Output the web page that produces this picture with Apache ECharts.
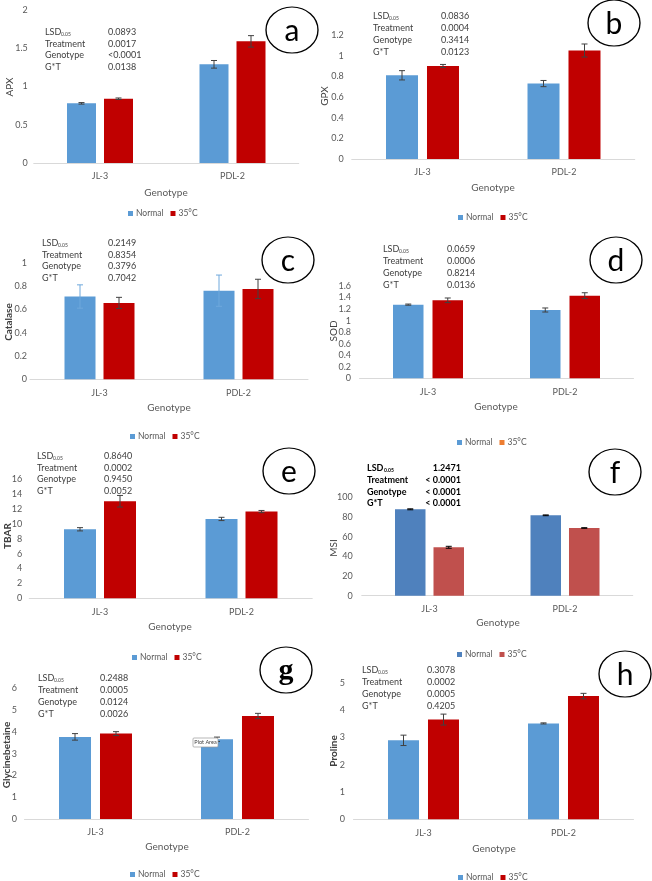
<!DOCTYPE html>
<html>
<head>
<meta charset="utf-8">
<script src="https://cdn.jsdelivr.net/npm/echarts@6/dist/echarts.min.js"></script>
<style>html,body{margin:0;padding:0;background:#fff;}#c{width:652px;height:881px;}</style>
</head>
<body>
<div id="c"></div>
<script>
// ---------- DATA ----------
const categories = ['JL-3', 'PDL-2'];
const seriesNames = ['Normal', '35°C'];

const apxNormal = [0.78, 1.29], apx35 = [0.84, 1.59];
const apxNormalErr = [0.01, 0.05], apx35Err = [0.01, 0.075];
const gpxNormal = [0.81, 0.73], gpx35 = [0.90, 1.05];
const gpxNormalErr = [0.045, 0.03], gpx35Err = [0.015, 0.063];
const catNormal = [0.71, 0.76], cat35 = [0.655, 0.775];
const catNormalErr = [0.10, 0.134], cat35Err = [0.048, 0.083];
const sodNormal = [1.277, 1.184], sod35 = [1.352, 1.433];
const sodNormalErr = [0.01, 0.035], sod35Err = [0.04, 0.05];
const tbarNormal = [9.28, 10.67], tbar35 = [13.05, 11.66];
const tbarNormalErr = [0.22, 0.22], tbar35Err = [0.78, 0.15];
const msiNormal = [87.8, 81.7], msi35 = [49.2, 68.8];
const msiNormalErr = [0.5, 0.4], msi35Err = [1.0, 0.3];
const gbNormal = [3.77, 3.66], gb35 = [3.92, 4.73];
const gbNormalErr = [0.15, 0.1], gb35Err = [0.09, 0.12];
const proNormal = [2.89, 3.51], pro35 = [3.65, 4.51];
const proNormalErr = [0.19, 0.02], pro35Err = [0.2, 0.1];

// y axis tick ranges [max, interval]
const yAxisMax = [2, 1.2, 1, 1.6, 16, 100, 6, 5];
const yAxisInterval = [0.5, 0.2, 0.2, 0.2, 2, 20, 1, 1];
const yAxisNames = ['APX', 'GPX', 'Catalase', 'SOD', 'TBAR', 'MSI', 'Glycinebetaine', 'Proline'];
const panelLetters = ['a', 'b', 'c', 'd', 'e', 'f', 'g', 'h'];
const xAxisName = 'Genotype';

const statRowLabels = ['LSD', 'Treatment', 'Genotype', 'G*T'];
const lsdSubscript = '0.05';
const apxStats = ['0.0893', '0.0017', '<0.0001', '0.0138'];
const gpxStats = ['0.0836', '0.0004', '0.3414', '0.0123'];
const catStats = ['0.2149', '0.8354', '0.3796', '0.7042'];
const sodStats = ['0.0659', '0.0006', '0.8214', '0.0136'];
const tbarStats = ['0.8640', '0.0002', '0.9450', '0.0052'];
const msiStats = ['1.2471', '< 0.0001', '< 0.0001', '< 0.0001'];
const gbStats = ['0.2488', '0.0005', '0.0124', '0.0026'];
const proStats = ['0.3078', '0.0002', '0.0005', '0.4205'];

const panelData = [
  [apxNormal, apx35, apxNormalErr, apx35Err, apxStats],
  [gpxNormal, gpx35, gpxNormalErr, gpx35Err, gpxStats],
  [catNormal, cat35, catNormalErr, cat35Err, catStats],
  [sodNormal, sod35, sodNormalErr, sod35Err, sodStats],
  [tbarNormal, tbar35, tbarNormalErr, tbar35Err, tbarStats],
  [msiNormal, msi35, msiNormalErr, msi35Err, msiStats],
  [gbNormal, gb35, gbNormalErr, gb35Err, gbStats],
  [proNormal, pro35, proNormalErr, pro35Err, proStats]
];

// ---------- LAYOUT / STYLE ----------
const FONT = 'Lato, "Open Sans", sans-serif';
const L = [
  {grid:[33.75,10,265,153], bw:29, gap:8, lm:6, yn:[10,87,false], xn:[166,193], lg:[123,204], ci:[292,30], lf:FONT, st:[45,108,32,11.7,false,'left'], colors:['#5B9BD5','#C00000'], err:['#404040','#404040'], leg:['#5B9BD5','#C00000']},
  {grid:[351.75,35,283,124], bw:32, gap:9, lm:8, yn:[325,96,false], xn:[493,188], lg:[453,208], ci:[614,23], lf:FONT, st:[373,441,16,12,false,'left'], colors:['#5B9BD5','#C00000'], err:['#404040','#404040'], leg:['#5B9BD5','#C00000']},
  {grid:[30,262.7,278,116.6], bw:31, gap:8, lm:3, yn:[9,322,true], xn:[169,408], lg:[125,427], ci:[288,260], lf:FONT, st:[42,108,243,11.7,false,'left'], colors:['#5B9BD5','#C00000'], err:['#6FA8DC','#404040'], leg:['#5B9BD5','#C00000']},
  {grid:[359.5,286,274,92.3], bw:30.5, gap:9, lm:8.5, yn:[334,331,false], xn:[496,407], lg:[452,433], ci:[616,260], lf:FONT, st:[383,447,249,12,false,'left'], colors:['#5B9BD5','#C00000'], err:['#404040','#404040'], leg:['#5B9BD5','#ED7D31']},
  {grid:[29.25,479.3,283,119], bw:32, gap:8, lm:7, yn:[8,536,true], xn:[170,627], lg:[127,648], ci:[289,471], lf:FONT, st:[37,104,456,11.7,false,'left'], colors:['#5B9BD5','#C00000'], err:['#404040','#404040'], leg:['#5B9BD5','#C00000']},
  {grid:[361.75,497.3,271,98.4], bw:30.5, gap:8, lm:9, yn:[334,548,false], xn:[498,623], lg:[452,645], ci:[615,472], lf:FONT, st:[367,461,468,11.8,true,'right'], colors:['#4F81BD','#C0504D'], err:['#000000','#000000'], leg:['#4F81BD','#C0504D']},
  {grid:[24.5,688.3,284,130.7], bw:32, gap:9, lm:7.5, yn:[7,755,true], xn:[167,847], lg:[125,865], ci:[286,670], lf:'"Liberation Serif", "DejaVu Serif", serif', st:[38,100,678,12,false,'left'], colors:['#5B9BD5','#C00000'], err:['#404040','#404040'], leg:['#5B9BD5','#C00000']},
  {grid:[353.5,682.7,280,136.6], bw:31, gap:9, lm:8.5, yn:[334,751,true], xn:[494,849], lg:[453,868], ci:[625,674], lf:FONT, st:[362,427,670,12,false,'left'], colors:['#5B9BD5','#C00000'], err:['#404040','#404040'], leg:['#5B9BD5','#C00000']}
];

const grids = [], xAxes = [], yAxes = [], series = [], legends = [], graphics = [];

L.forEach((p, i) => {
  const d = panelData[i];
  grids.push({left: p.grid[0], top: p.grid[1], width: p.grid[2], height: p.grid[3], containLabel: false});
  xAxes.push({
    type: 'category', gridIndex: i, data: categories,
    axisLine: {lineStyle: {color: '#D9D9D9', width: 1}},
    axisTick: {show: false},
    axisLabel: {color: '#595959', fontSize: 9, fontFamily: FONT, margin: 9}
  });
  yAxes.push({
    type: 'value', gridIndex: i, min: 0, max: yAxisMax[i], interval: yAxisInterval[i],
    axisLine: {show: false}, axisTick: {show: false}, splitLine: {show: false},
    axisLabel: {color: '#595959', fontSize: 9, fontFamily: FONT, margin: p.lm}
  });
  const barGap = (p.gap / p.bw * 100).toFixed(1) + '%';
  [0, 1].forEach(s => {
    series.push({
      type: 'bar', name: seriesNames[s], xAxisIndex: i, yAxisIndex: i,
      data: d[s], barWidth: p.bw, barGap: barGap,
      itemStyle: {color: p.colors[s]}, z: 2
    });
  });
  const errData = [];
  [0, 1].forEach(s => {
    d[s].forEach((v, c) => errData.push([c, s, v, d[2 + s][c]]));
  });
  series.push({
    type: 'custom', name: 'err' + i, xAxisIndex: i, yAxisIndex: i, z: 5,
    data: errData, encode: {x: 0, y: 2},
    renderItem: (params, api) => {
      const c = api.value(0), s = api.value(1), v = api.value(2), e = api.value(3);
      const off = (s === 0 ? -1 : 1) * (p.bw + p.gap) / 2;
      const x = api.coord([c, v])[0] + off;
      const yt = api.coord([c, v + e])[1], yb = api.coord([c, v - e])[1];
      const cap = 3;
      const st = {stroke: p.err[s], lineWidth: 1};
      return {type: 'group', children: [
        {type: 'line', shape: {x1: x, y1: yt, x2: x, y2: yb}, style: st},
        {type: 'line', shape: {x1: x - cap, y1: yt, x2: x + cap, y2: yt}, style: st},
        {type: 'line', shape: {x1: x - cap, y1: yb, x2: x + cap, y2: yb}, style: st}
      ]};
    }
  });
  legends.push({
    left: p.lg[0], top: p.lg[1], icon: 'rect', itemWidth: 5, itemHeight: 5, itemGap: 7,
    textStyle: {color: '#595959', fontSize: 8.5, fontFamily: FONT, padding: [0, 0, 0, -2]},
    selectedMode: false,
    data: seriesNames.map((n, s) => ({name: n, itemStyle: {color: p.leg[s]}}))
  });
  // axis names
  graphics.push({type: 'text', x: p.yn[0], y: p.yn[1], rotation: Math.PI / 2,
    style: {text: yAxisNames[i], fill: '#404040', font: (p.yn[2] ? 'bold ' : '') + '10px ' + FONT, textAlign: 'center', textVerticalAlign: 'middle'}});
  graphics.push({type: 'text', x: p.xn[0], y: p.xn[1],
    style: {text: xAxisName, fill: '#595959', font: '10px ' + FONT, textAlign: 'center', textVerticalAlign: 'middle'}});
  // circle letter
  graphics.push({type: 'circle', x: p.ci[0], y: p.ci[1], scaleX: 1.13, shape: {cx: 0, cy: 0, r: 23},
    style: {fill: 'rgba(255,255,255,0)', stroke: '#000', lineWidth: 1.2}, z: 10});
  graphics.push({type: 'text', x: p.ci[0], y: p.ci[1] + 1, z: 11,
    style: {text: panelLetters[i], fill: '#000', font: (i === 6 ? 'bold ' : '') + '30px ' + p.lf, textAlign: 'center', textVerticalAlign: 'middle'}});
  // stats table
  const [x1, x2, y0, dy, bold, align] = p.st;
  const f = (bold ? 'bold ' : '') + '9px ' + FONT;
  const col = bold ? '#000' : '#404040';
  statRowLabels.forEach((lab, r) => {
    graphics.push({type: 'text', x: x1, y: y0 + r * dy, z: 12,
      style: {text: lab, fill: col, font: f, textAlign: 'left', textVerticalAlign: 'middle'}});
    if (r === 0) {
      graphics.push({type: 'text', x: x1 + (bold ? 17 : 16), y: y0 + 2.5, z: 12,
        style: {text: lsdSubscript, fill: col, font: (bold ? 'bold ' : '') + '5px ' + FONT, textAlign: 'left', textVerticalAlign: 'middle'}});
    }
    graphics.push({type: 'text', x: x2, y: y0 + r * dy, z: 12,
      style: {text: d[4][r], fill: col, font: f, textAlign: align, textVerticalAlign: 'middle'}});
  });
});

// "Plot Area" tooltip box in panel g
graphics.push({type: 'rect', x: 193, y: 738, z: 30, shape: {x: 0, y: 0, width: 25, height: 9, r: 1}, style: {fill: '#fff', stroke: '#9a9a9a', lineWidth: 0.7}});
graphics.push({type: 'text', x: 205.5, y: 742.7, z: 31, style: {text: 'Plot Area', fill: '#404040', font: '5.5px ' + FONT, textAlign: 'center', textVerticalAlign: 'middle'}});

const chart = echarts.init(document.getElementById('c'), null, {renderer: 'canvas'});
chart.setOption({
  animation: false,
  backgroundColor: '#fff',
  grid: grids, xAxis: xAxes, yAxis: yAxes, series: series, legend: legends, graphic: graphics
});
</script>
</body>
</html>
